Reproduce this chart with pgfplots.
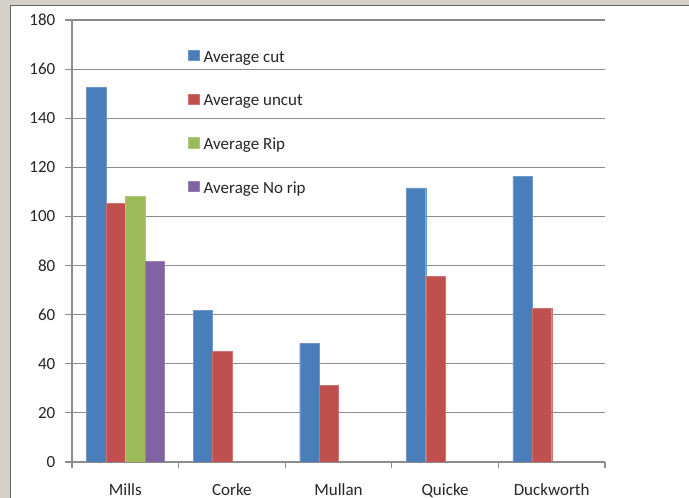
\documentclass[border=0pt]{standalone}
\usepackage{fontspec}
\setmainfont{Carlito}
\usepackage{pgfplots}
\usepackage{pgfplotstable}
\pgfplotsset{compat=1.18}
\definecolor{cblue}{HTML}{4A7EBB}
\definecolor{cred}{HTML}{C0504D}
\definecolor{cgreen}{HTML}{9BBB59}
\definecolor{cpurple}{HTML}{8064A2}
\definecolor{bggray}{HTML}{D4D0C8}
\definecolor{gridgray}{HTML}{8C8C8C}
\pgfplotstableread{
x cut uncut rip norip
0 152.7 105.2 108.4 81.8
1 61.8 45.2 nan nan
2 48.3 31.2 nan nan
3 111.6 75.7 nan nan
4 116.4 62.7 nan nan
}\data
\begin{document}
\begin{tikzpicture}[x=1pt,y=1pt]
\fill[bggray] (0,0) rectangle (689,498);
\fill[white] (11,0) rectangle (689,492);
\draw[gray!80!black, line width=1pt] (10.5,0) -- (10.5,492.5) -- (689,492.5);
\begin{axis}[
  at={(72pt,36pt)}, anchor=south west,
  scale only axis, width=533pt, height=442pt,
  ybar=0pt, bar width=19.4pt,
  xmin=-0.5, xmax=4.5, ymin=0, ymax=180,
  ytick={0,20,...,180},
  xtick={0,1,2,3,4},
  xticklabels={Mills,Corke,Mullan,Quicke,Duckworth},
  minor xtick={-0.5,0.5,1.5,2.5,3.5,4.5},
  major x tick style={draw=none},
  minor tick length=6.5pt,
  major tick length=6.5pt,
  tick align=outside,
  axis lines*=left,
  axis line style={gridgray, line width=1.2pt},
  tick style={gridgray, line width=1.2pt},
  ymajorgrids, grid style={gridgray, line width=1.2pt},
  /pgf/number format/assume math mode=true,
  ticklabel style={font=\fontsize{17}{20}\selectfont, text=black!85},
  xticklabel style={inner sep=0pt, text height=12pt, text depth=4pt, anchor=north, yshift=-14.5pt},
  yticklabel style={inner sep=0pt, anchor=east, xshift=-10pt},
  legend cell align=left,
  legend style={at={(0.2176,0.933)}, anchor=north west, draw=none, fill=none,
    inner sep=0pt, row sep=27.5pt,
    nodes={inner sep=0pt, text height=12pt, text depth=4pt, font=\fontsize{17}{20}\selectfont, text=black!85},
    /tikz/every odd column/.append style={column sep=4.5pt}},
  legend image code/.code={\fill[#1] (0pt,-2.5pt) rectangle (10.6pt,8pt);},
]
\addplot[fill=cblue, draw=cblue!80!white] table[x=x, y=cut] {\data};
\addplot[fill=cred, draw=cred!80!white] table[x=x, y=uncut] {\data};
\addplot[fill=cgreen, draw=cgreen!80!white] table[x=x, y=rip] {\data};
\addplot[fill=cpurple, draw=cpurple!80!white] table[x=x, y=norip] {\data};
\legend{Average cut, Average uncut, Average Rip, Average No rip}
\end{axis}
\pgfresetboundingbox
\useasboundingbox (0,0) rectangle (689,498);
\end{tikzpicture}
\end{document}
